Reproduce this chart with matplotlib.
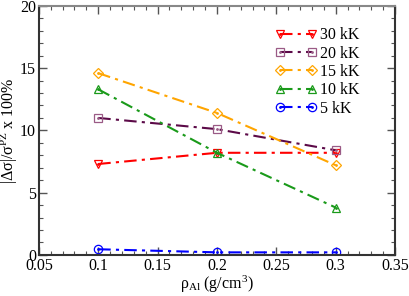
import matplotlib
matplotlib.use("Agg")
import matplotlib.pyplot as plt
from matplotlib.ticker import MultipleLocator
from matplotlib.legend_handler import HandlerTuple

plt.rcParams['font.family'] = ['Liberation Serif', 'DejaVu Serif']
plt.rcParams['mathtext.fontset'] = 'custom'
plt.rcParams['mathtext.rm'] = 'Liberation Serif'
plt.rcParams['mathtext.it'] = 'Liberation Serif:italic'

rho = [0.1, 0.2, 0.3]
labels = ["30 kK", "20 kK", "15 kK", "10 kK", "5 kK"]
v30 = [7.3, 8.2, 8.2]
v20 = [11.0, 10.1, 8.4]
v15 = [14.6, 11.4, 7.2]
v10 = [13.3, 8.2, 3.8]
v5 = [0.45, 0.2, 0.2]

series = [v30, v20, v15, v10, v5]
line_colors = ['#ff0000', '#5c0a48', '#ffa500', '#1a9a1a', '#0000ff']
mk_colors = ['#ff0000', '#9a5a86', '#ffa500', '#1a9a1a', '#0000ff']
markers = ['v', 's', 'D', '^', 'o']
msizes = [6, 6, 5.5, 6, 6]

fig = plt.figure(figsize=(4.09, 2.96), dpi=100)
ax = fig.add_axes([0.095, 0.139, 0.871, 0.841])

handles = []
for vals, lc, mc, m, ms, lab in zip(series, line_colors, mk_colors, markers, msizes, labels):
    ln, = ax.plot(rho, vals, color=lc, linestyle=(0, (6, 2.5, 1.5, 2.5)), lw=1.5,
                  marker=m, ms=ms, mfc='none', mec=mc, mew=0.9, label=lab)
    dt, = ax.plot(rho, vals, linestyle='none', marker='.', ms=2, color=mc)
    handles.append((ln, dt))

ax.set_xlim(0.05, 0.35)
ax.set_ylim(0, 20)
ax.xaxis.set_minor_locator(MultipleLocator(0.01))
ax.yaxis.set_major_locator(MultipleLocator(5))
ax.yaxis.set_minor_locator(MultipleLocator(1))
ax.set_xticks([0.05, 0.1, 0.15, 0.2, 0.25, 0.3, 0.35])
ax.set_xticklabels(['0.05', '0.1', '0.15', '0.2', '0.25', '0.3', '0.35'])
ax.tick_params(which='both', direction='in', top=True, right=True, color='#555555')
ax.tick_params(which='major', length=6, width=1, labelsize=11.5, pad=2)
ax.tick_params(which='minor', length=3, width=0.8)
for s in ax.spines.values():
    s.set_linewidth(1.5)
    s.set_color('#333333')
ax.spines['top'].set_color('#888888')

ax.set_xlabel(r'$\mathrm{\rho_{Al}\ (g/cm^3)}$', fontsize=11.5, labelpad=0)
ax.set_ylabel(r'$\mathrm{|\Delta\sigma|/\sigma^{PZ}\ x\ 100\%}$', fontsize=11.5, labelpad=0)

leg = ax.legend(handles, labels, loc='upper left', bbox_to_anchor=(0.645, 0.94),
                frameon=False, fontsize=11.5, numpoints=2, handlelength=2.6,
                handletextpad=0.2, labelspacing=0.15, borderaxespad=0,
                handler_map={tuple: HandlerTuple(ndivide=1, pad=0)})

fig.savefig('out.png', dpi=100)
